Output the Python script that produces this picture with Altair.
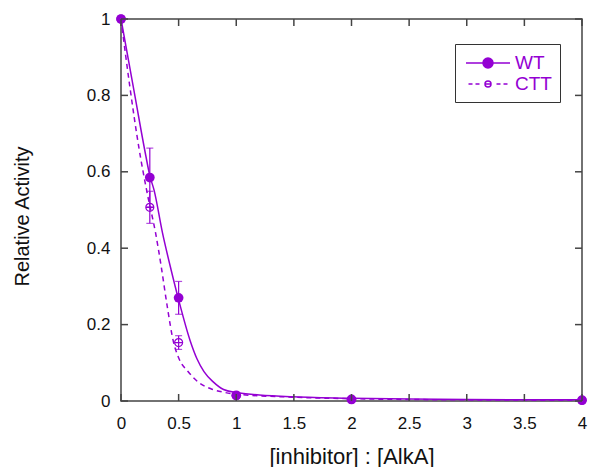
import altair as alt
import pandas as pd

# ---------------- data ----------------
series_names = ["WT", "CTT"]

pts_x = [0, 0.25, 0.5, 1, 2, 4]
wt_y = [1.0, 0.585, 0.27, 0.015, 0.004, 0.002]
wt_err = [0, 0.077, 0.043, 0, 0, 0]
ctt_y = [1.0, 0.507, 0.153, 0.014, 0.004, 0.002]
ctt_err = [0, 0.042, 0.018, 0, 0, 0]

fit_wt_x = [0, 0.12, 0.214, 0.25, 0.287, 0.36, 0.435, 0.5, 0.6, 0.66, 0.72, 0.8, 0.89, 1.0, 1.2, 1.5, 2.0, 2.5, 3.0, 4.0]
fit_wt_y = [1, 0.8, 0.644, 0.59, 0.552, 0.44, 0.343, 0.265, 0.158, 0.11, 0.077, 0.05, 0.03, 0.022, 0.016, 0.011, 0.007, 0.005, 0.004, 0.003]

fit_ctt_x = [0, 0.078, 0.157, 0.23, 0.3, 0.35, 0.4, 0.455, 0.5, 0.585, 0.68, 0.78, 0.89, 1.0, 1.5, 2.0, 2.5, 3.0, 4.0]
fit_ctt_y = [1, 0.82, 0.66, 0.54, 0.44, 0.35, 0.25, 0.155, 0.113, 0.076, 0.047, 0.032, 0.023, 0.018, 0.01, 0.006, 0.004, 0.003, 0.002]

x_ticks = [0, 0.5, 1, 1.5, 2, 2.5, 3, 3.5, 4]
y_ticks = [0, 0.2, 0.4, 0.6, 0.8, 1]

# ---------------- style ----------------
PURPLE = "#9400D3"
AXC = "#444444"
FONT = "Liberation Sans"
W, H = 461, 382
TL = 7

theta_path = "M-1,0A1,1 0 1,0 1,0A1,1 0 1,0 -1,0ZM-1,0L1,0"
# legend symbols (unit = 10 px with symbolSize 400)
leg_wt = "M-2.2,0L2.2,0M-0.5,0A0.5,0.5 0 1,0 0.5,0A0.5,0.5 0 1,0 -0.5,0Z"
leg_ctt = ("M-1.95,0L-1.55,0M-1.25,0L-0.85,0"
           "M-0.3,0A0.3,0.3 0 1,0 0.3,0A0.3,0.3 0 1,0 -0.3,0ZM-0.3,0L0.3,0"
           "M0.85,0L1.25,0M1.55,0L1.95,0")

xaxis = alt.Axis(values=x_ticks, format="~g", grid=False, domain=False, ticks=False, labelFlush=False,
                 labelFontSize=17, labelColor="#111", labelPadding=27, labelBaseline="alphabetic",
                 title="[inhibitor] : [AlkA]", titleFontSize=22, titleFontWeight="normal",
                 titleColor="#111", titleBaseline="alphabetic", titleY=62, titleX=230.5)
yaxis = alt.Axis(values=y_ticks, format="~g", grid=False, domain=False, ticks=False, labelFlush=False,
                 labelFontSize=17, labelColor="#111", labelPadding=11,
                 title="Relative Activity", titleFontSize=20, titleFontWeight="normal",
                 titleColor="#111", titleBaseline="alphabetic", titleX=-93, titleY=197)


def X(field="x"):
    return alt.X(f"{field}:Q", scale=alt.Scale(domain=[0, 4], nice=False, zero=False), axis=xaxis)


def Y(field="y"):
    return alt.Y(f"{field}:Q", scale=alt.Scale(domain=[0, 1], nice=False), axis=yaxis)


fit_wt = pd.DataFrame({"x": fit_wt_x, "y": fit_wt_y})
fit_ctt = pd.DataFrame({"x": fit_ctt_x, "y": fit_ctt_y})

wt_df = pd.DataFrame({"x": pts_x, "y": wt_y, "e": wt_err})
ctt_df = pd.DataFrame({"x": pts_x, "y": ctt_y, "e": ctt_err})
for d in (wt_df, ctt_df):
    d["lo"] = d["y"] - d["e"]
    d["hi"] = d["y"] + d["e"]
wt_eb = wt_df[wt_df["e"] > 0]
ctt_eb = ctt_df[ctt_df["e"] > 0]

line_wt = alt.Chart(fit_wt).mark_line(color=PURPLE, strokeWidth=1.5, interpolate="monotone").encode(x=X(), y=Y())
line_ctt = alt.Chart(fit_ctt).mark_line(color=PURPLE, strokeWidth=1.5, strokeDash=[5, 4],
                                        interpolate="monotone").encode(x=X(), y=Y())


def errbars(df):
    rule = alt.Chart(df).mark_rule(color=PURPLE, strokeWidth=1.2).encode(
        x=X(), y=Y("lo"), y2="hi:Q")
    cap_hi = alt.Chart(df).mark_tick(color=PURPLE, thickness=1.2, size=7, orient="horizontal").encode(
        x=X(), y=Y("hi"))
    cap_lo = alt.Chart(df).mark_tick(color=PURPLE, thickness=1.2, size=7, orient="horizontal").encode(
        x=X(), y=Y("lo"))
    return rule + cap_hi + cap_lo


pts_ctt = alt.Chart(ctt_df).mark_point(shape=theta_path, size=64, filled=False, color=PURPLE,
                                       strokeWidth=1.2, opacity=1).encode(x=X(), y=Y())
pts_wt = alt.Chart(wt_df).mark_point(shape="circle", size=95, filled=True, color=PURPLE,
                                     opacity=1).encode(x=X(), y=Y())

# inward ticks on all four sides
xt = pd.DataFrame({"x": x_ticks})
yt = pd.DataFrame({"y": y_ticks})
tick_b = alt.Chart(xt).mark_rule(color=AXC, strokeWidth=1.5).encode(x=X(), y=alt.value(H), y2=alt.value(H - TL))
tick_t = alt.Chart(xt).mark_rule(color=AXC, strokeWidth=1.5).encode(x=X(), y=alt.value(0), y2=alt.value(TL))
tick_l = alt.Chart(yt).mark_rule(color=AXC, strokeWidth=1.5).encode(y=Y(), x=alt.value(0), x2=alt.value(TL))
tick_r = alt.Chart(yt).mark_rule(color=AXC, strokeWidth=1.5).encode(y=Y(), x=alt.value(W), x2=alt.value(W - TL))

# legend (built from its own scales)
leg_df = pd.DataFrame({"series": series_names})
legend = alt.Legend(title=None, orient="none", legendX=334, legendY=25, strokeColor="#333333",
                    padding=8, labelColor=PURPLE, labelFontSize=19, labelFont=FONT,
                    labelOffset=16, symbolOffset=14, symbolOpacity=1, symbolStrokeWidth=1.5,
                    symbolSize=400, rowPadding=-2)
leg_layer = alt.Chart(leg_df).mark_point(opacity=0, size=400, strokeWidth=1.5).encode(
    x=alt.value(0), y=alt.value(0),
    shape=alt.Shape("series:N", scale=alt.Scale(domain=series_names, range=[leg_wt, leg_ctt]), legend=legend),
    color=alt.Color("series:N", scale=alt.Scale(domain=series_names, range=[PURPLE, PURPLE]), legend=legend),
    fill=alt.Fill("series:N", scale=alt.Scale(domain=series_names, range=[PURPLE, "#ffffff"]), legend=legend),
)

chart = alt.layer(
    line_wt, line_ctt, errbars(wt_eb), errbars(ctt_eb), pts_ctt, pts_wt,
    tick_b, tick_t, tick_l, tick_r, leg_layer
).properties(
    width=W, height=H,
    autosize=alt.AutoSizeParams(type="none"),
    padding={"left": 121, "top": 19, "right": 7, "bottom": 66},
    background="white",
).configure(font=FONT).configure_view(stroke=AXC, strokeWidth=1.5)

chart.save("out.html", embed_options={"renderer": "svg", "actions": False})
